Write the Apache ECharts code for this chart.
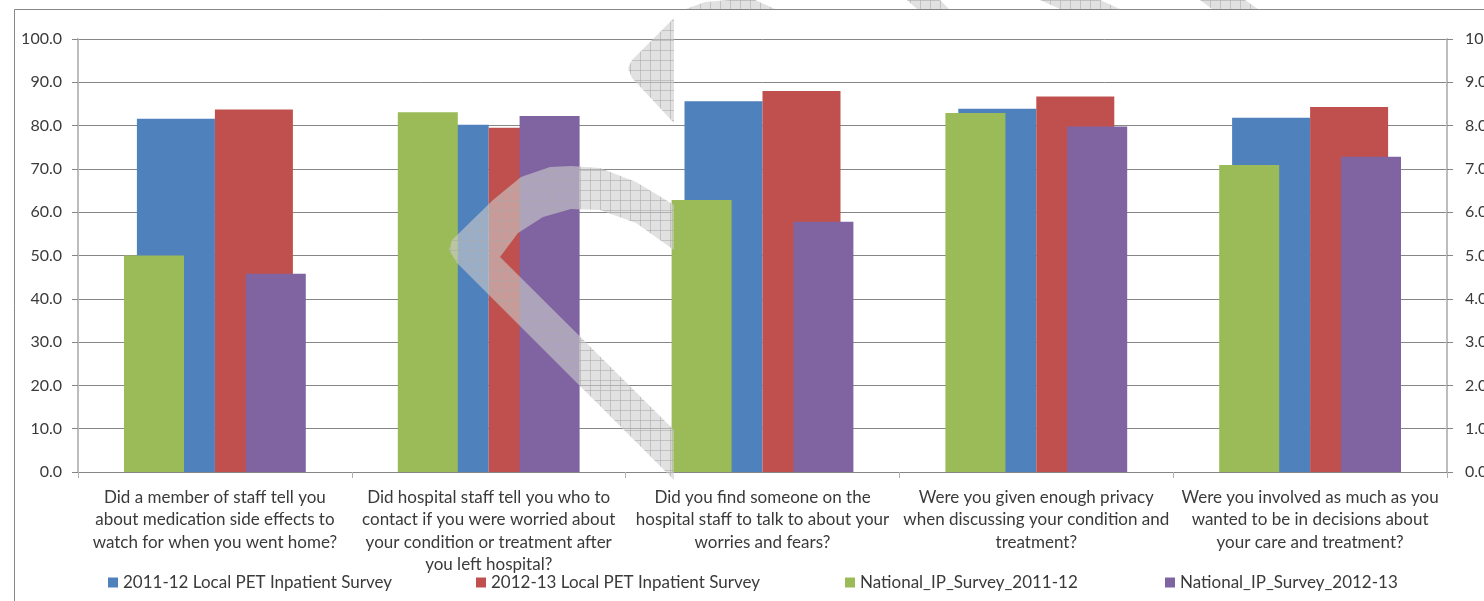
<!DOCTYPE html>
<html>
<head>
<meta charset="utf-8">
<script src="https://cdn.jsdelivr.net/npm/echarts@6/dist/echarts.min.js"></script>
<style>
html,body{margin:0;padding:0;background:#fff;}
#c{width:1484px;height:601px;}
</style>
</head>
<body>
<div id="c"></div>
<script>
var categories = [
  "Did a member of staff tell you\nabout medication side effects to\nwatch for when you went home?",
  "Did hospital staff tell you who to\ncontact if you were worried about\nyour condition or treatment after\nyou left hospital?",
  "Did you find someone on the\nhospital staff to talk to about your\nworries and fears?",
  "Were you given enough privacy\nwhen discussing your condition and\ntreatment?",
  "Were you involved as much as you\nwanted to be in decisions about\nyour care and treatment?"
];
var seriesNames = [
  "2011-12 Local PET Inpatient Survey",
  "2012-13 Local PET Inpatient Survey",
  "National_IP_Survey_2011-12",
  "National_IP_Survey_2012-13"
];
var local2011 = [81.6, 80.2, 85.6, 83.9, 81.8];
var local2012 = [83.7, 79.5, 88.0, 86.7, 84.3];
var national2011 = [5.0, 8.31, 6.28, 8.29, 7.09];
var national2012 = [4.58, 8.22, 5.78, 7.98, 7.28];
var leftTicks = [0, 100, 10];
var rightTicks = [0, 10, 1];

var colors = ["#4F81BD", "#C0504D", "#9BBB59", "#8064A2"];
var font = "Lato, 'Open Sans', sans-serif";
var txt = "#3a3a3a";

// watermark pattern
var pc = document.createElement("canvas");
pc.width = 10; pc.height = 10;
var pctx = pc.getContext("2d");
pctx.fillStyle = "rgba(205,205,205,0.6)";
pctx.fillRect(0, 0, 10, 10);
pctx.fillStyle = "rgba(170,170,170,0.55)";
pctx.fillRect(0, 0, 10, 1);
pctx.fillRect(0, 0, 1, 10);
var wmFill = {image: pc, repeat: "repeat"};

var chart = echarts.init(document.getElementById("c"), null, {renderer: "canvas"});

function legendAt(i, left) {
  return {
    data: [seriesNames[i]],
    left: left, top: 569,
    itemWidth: 10, itemHeight: 10, itemGap: 5,
    icon: "rect",
    textStyle: {fontFamily: font, fontSize: 17, color: txt, padding: [0,0,0,0]}
  };
}

var option = {
  animation: false,
  backgroundColor: "#fff",
  textStyle: {fontFamily: font},
  grid: {left: 78, right: 37, top: 39, bottom: 129, containLabel: false, outerBoundsMode: "none"},
  legend: [legendAt(0, 103), legendAt(1, 471), legendAt(2, 840), legendAt(3, 1160)],
  xAxis: [
    {
      type: "category", data: categories,
      axisLine: {lineStyle: {color: "#868686", width: 1}},
      axisTick: {show: true, length: 6, interval: 0, lineStyle: {color: "#b0b0b0"}},
      axisLabel: {interval: 0, fontSize: 17, lineHeight: 22.5, margin: 14, color: txt, fontFamily: font}
    },
    {type: "category", data: categories, show: false}
  ],
  yAxis: [
    {
      type: "value", min: leftTicks[0], max: leftTicks[1], interval: leftTicks[2],
      axisLine: {show: true, lineStyle: {color: "#bdbdbd", width: 2}},
      axisTick: {show: true, length: 6, lineStyle: {color: "#868686"}},
      splitLine: {show: true, lineStyle: {color: "#868686", width: 1}},
      axisLabel: {formatter: function(v){return v.toFixed(1);}, fontSize: 16, margin: 16, color: txt, fontFamily: font}
    },
    {
      type: "value", position: "right", min: rightTicks[0], max: rightTicks[1], interval: rightTicks[2],
      axisLine: {show: true, lineStyle: {color: "#bdbdbd", width: 2}},
      axisTick: {show: true, length: 6, lineStyle: {color: "#868686"}},
      splitLine: {show: false},
      axisLabel: {formatter: function(v){return v.toFixed(1);}, fontSize: 16, margin: 18, color: txt, fontFamily: font}
    }
  ],
  series: [
    {name: seriesNames[0], type: "bar", xAxisIndex: 0, yAxisIndex: 0, data: local2011, barWidth: 78, barGap: "0%", itemStyle: {color: colors[0]}},
    {name: seriesNames[1], type: "bar", xAxisIndex: 0, yAxisIndex: 0, data: local2012, barWidth: 78, barGap: "0%", itemStyle: {color: colors[1]}},
    {name: seriesNames[2], type: "bar", xAxisIndex: 1, yAxisIndex: 1, data: national2011, barWidth: 60, barGap: "103%", itemStyle: {color: colors[2]}},
    {name: seriesNames[3], type: "bar", xAxisIndex: 1, yAxisIndex: 1, data: national2012, barWidth: 60, barGap: "103%", itemStyle: {color: colors[3]}}
  ],
  graphic: [
    {type: "rect", silent: true, z: -10, shape: {x: 14.5, y: 9.5, width: 1500, height: 700},
     style: {fill: "none", stroke: "#868686", lineWidth: 1}},
    {type: "polygon", silent: true, z: 100, shape: {points: [
      [674,205],[661,197],[636,182],[600,168],[571,166],[550,167],[521,177],[493,200],[452,240],[449,250],[457,263],
      [674,480],[674,430],[500,257],[518,233],[543,217],[571,209],[600,210],[636,223],[674,250]
    ]}, style: {fill: wmFill}},
    {type: "polygon", silent: true, z: 100, shape: {points: [
      [674,18],[632,60],[628,68],[632,78],[674,123]
    ]}, style: {fill: wmFill}},
    {type: "polygon", silent: true, z: 100, shape: {points: [
      [686,9],[705,2],[730,0],[755,0],[775,9]
    ]}, style: {fill: wmFill}},
    {type: "polygon", silent: true, z: 100, shape: {points: [[907,0],[940,0],[949,9],[917,9]]}, style: {fill: wmFill}},
    {type: "polygon", silent: true, z: 100, shape: {points: [[1040,0],[1100,0],[1120,9],[1060,9]]}, style: {fill: wmFill}},
    {type: "polygon", silent: true, z: 100, shape: {points: [[1200,0],[1245,0],[1258,9],[1212,9]]}, style: {fill: wmFill}}
  ]
};
chart.setOption(option);
</script>
</body>
</html>
